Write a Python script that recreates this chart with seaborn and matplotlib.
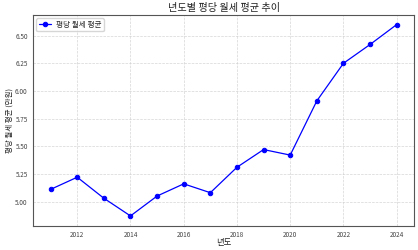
import matplotlib
matplotlib.use("Agg")
import matplotlib.pyplot as plt
import seaborn as sns
import pandas as pd

years = [2011, 2012, 2013, 2014, 2015, 2016, 2017, 2018, 2019, 2020, 2021, 2022, 2023, 2024]
values = [5.11, 5.22, 5.03, 4.87, 5.05, 5.16, 5.08, 5.31, 5.47, 5.42, 5.91, 6.25, 6.42, 6.60]
series_label = "평당 월세 평균"

sns.set_style("white")
plt.rcParams['font.family'] = ['Noto Sans CJK KR', 'DejaVu Sans']
plt.rcParams['axes.unicode_minus'] = False

df = pd.DataFrame({"년도": years, "value": values})

fig = plt.figure(figsize=(4.18, 2.5), dpi=100)
ax = fig.add_axes([33.3/418, 1-225.5/250, (414-33.3)/418, (225.5-15)/250])
sns.lineplot(data=df, x="년도", y="value", ax=ax, color="blue", marker="o",
             markersize=3.2, markeredgecolor="blue", linewidth=0.9, label=series_label)
ax.grid(True, linestyle="--", linewidth=0.5, color="#cccccc", alpha=0.8)
ax.set_title("년도별 평당 월세 평균 추이", fontsize=7.3, pad=3, color="#222222")
ax.set_xlabel("년도", fontsize=6, color="#222222")
ax.xaxis.set_label_coords(0.5, -0.058)
ax.set_ylabel("평당 월세 평균 (만원)", fontsize=5.4, color="#222222")
ax.yaxis.set_label_coords(-0.052, 0.5)
ax.tick_params(axis="both", labelsize=4.6, length=2.5, width=0.6, pad=1.5, colors="#444444")
for s in ax.spines.values():
    s.set_color("#555555")
    s.set_linewidth(0.8)
ax.legend(loc="upper left", fontsize=5.5, frameon=True, handlelength=1.6,
          borderpad=0.35, borderaxespad=0.4, handletextpad=0.6)
fig.savefig("out.png", dpi=100)
